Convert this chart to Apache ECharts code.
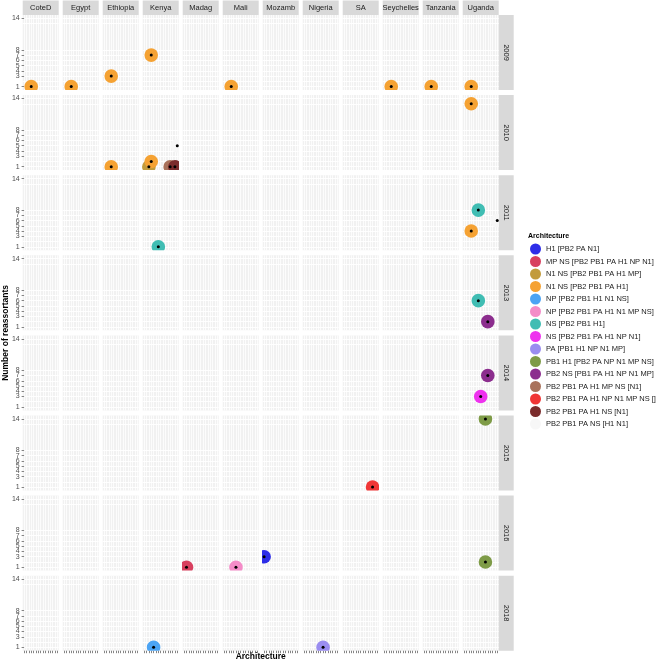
<!DOCTYPE html>
<html><head><meta charset="utf-8">
<script src="https://cdn.jsdelivr.net/npm/echarts@6/dist/echarts.min.js"></script>
<style>html,body{margin:0;padding:0;background:#fff}#c{width:658px;height:661px}</style>
</head><body><div id="c"></div>
<script>
// ---------------- data ----------------
const countries = ['CoteD','Egypt','Ethiopia','Kenya','Madag','Mali','Mozamb','Nigeria','SA','Seychelles','Tanzania','Uganda'];
const years = ['2009','2010','2011','2013','2014','2015','2016','2018'];
const architectures = [
  'H1 [PB2 PA N1]',
  'MP NS [PB2 PB1 PA H1 NP N1]',
  'N1 NS [PB2 PB1 PA H1 MP]',
  'N1 NS [PB2 PB1 PA H1]',
  'NP [PB2 PB1 H1 N1 NS]',
  'NP [PB2 PB1 PA H1 N1 MP NS]',
  'NS [PB2 PB1 H1]',
  'NS [PB2 PB1 PA H1 NP N1]',
  'PA [PB1 H1 NP N1 MP]',
  'PB1 H1 [PB2 PA NP N1 MP NS]',
  'PB2 NS [PB1 PA H1 NP N1 MP]',
  'PB2 PB1 PA H1 MP NS [N1]',
  'PB2 PB1 PA H1 NP N1 MP NS []',
  'PB2 PB1 PA H1 NS [N1]',
  'PB2 PB1 PA NS [H1 N1]'
];
const archColors = ['#2E2EE8','#D8405F','#C29B3C','#F5A233','#4CA4F4','#F48CC8','#40BDB3','#EE32EE','#9A8DF0','#7E9B47','#8C2E8E','#A9725B','#F03636','#7B2C2C','#F7F7F7'];
const yBreaks = [1,2,3,4,5,6,7,8,13,14];

// observations (one entry per point)
const obsYear    = ['2009','2009','2009','2009','2009','2009','2009','2009',
                    '2010','2010','2010','2010','2010','2010','2010',
                    '2011','2011','2011','2011',
                    '2013','2013',
                    '2014','2014',
                    '2015','2015',
                    '2016','2016','2016','2016',
                    '2018','2018'];
const obsCountry = ['CoteD','Egypt','Ethiopia','Kenya','Mali','Seychelles','Tanzania','Uganda',
                    'Ethiopia','Kenya','Kenya','Kenya','Kenya','Kenya','Uganda',
                    'Kenya','Uganda','Uganda','Uganda',
                    'Uganda','Uganda',
                    'Uganda','Uganda',
                    'SA','Uganda',
                    'Madag','Mali','Mozamb','Uganda',
                    'Kenya','Nigeria'];
const obsArch    = ['N1 NS [PB2 PB1 PA H1]','N1 NS [PB2 PB1 PA H1]','N1 NS [PB2 PB1 PA H1]','N1 NS [PB2 PB1 PA H1]',
                    'N1 NS [PB2 PB1 PA H1]','N1 NS [PB2 PB1 PA H1]','N1 NS [PB2 PB1 PA H1]','N1 NS [PB2 PB1 PA H1]',
                    'N1 NS [PB2 PB1 PA H1]','N1 NS [PB2 PB1 PA H1 MP]','N1 NS [PB2 PB1 PA H1]','PB2 PB1 PA H1 MP NS [N1]',
                    'PB2 PB1 PA H1 NS [N1]','PB2 PB1 PA NS [H1 N1]','N1 NS [PB2 PB1 PA H1]',
                    'NS [PB2 PB1 H1]','N1 NS [PB2 PB1 PA H1]','NS [PB2 PB1 H1]','PB2 PB1 PA NS [H1 N1]',
                    'NS [PB2 PB1 H1]','PB2 NS [PB1 PA H1 NP N1 MP]',
                    'NS [PB2 PB1 PA H1 NP N1]','PB2 NS [PB1 PA H1 NP N1 MP]',
                    'PB2 PB1 PA H1 NP N1 MP NS []','PB1 H1 [PB2 PA NP N1 MP NS]',
                    'MP NS [PB2 PB1 PA H1 NP N1]','NP [PB2 PB1 PA H1 N1 MP NS]','H1 [PB2 PA N1]','PB1 H1 [PB2 PA NP N1 MP NS]',
                    'NP [PB2 PB1 H1 N1 NS]','PA [PB1 H1 NP N1 MP]'];
const obsCount   = [1,1,3,7,1,1,1,1,
                    1,1,2,1,1,5,13,
                    1,4,8,6,
                    6,2,
                    3,7,
                    1,14,
                    1,1,3,2,
                    1,1];

// ---------------- layout ----------------
const FONT = 'Liberation Sans, Arial, Helvetica, sans-serif';
const L = { left: 22.7, colStep: 40, panelW: 36, top: 15, rowStep: 80.1, panelH: 75, stripH: 14.5, rStripW: 15 };
const nC = countries.length, nR = years.length;
const archIdx = {}; architectures.forEach((a,i)=>archIdx[a]=i);
const xTicks = architectures.map((a,i)=>i);

const grids = [], xAxes = [], yAxes = [], series = [], graphics = [];

for (let r = 0; r < nR; r++) {
  for (let c = 0; c < nC; c++) {
    const gi = r*nC + c;
    grids.push({ left: L.left + c*L.colStep, top: L.top + r*L.rowStep, width: L.panelW, height: L.panelH,
      show: true, backgroundColor: '#F1F1F1', borderWidth: 0, containLabel: false });
    const bottom = r === nR-1, leftCol = c === 0;
    xAxes.push({ type: 'value', gridIndex: gi, min: -0.6, max: architectures.length - 0.4,
      axisLine: { show: false },
      axisTick: { show: bottom, customValues: xTicks, length: 2.5, lineStyle: { color: '#333', width: 0.6 } },
      axisLabel: { show: false },
      splitLine: { show: true, lineStyle: { color: '#FFFFFF', width: 0.8 } } });
    yAxes.push({ type: 'value', gridIndex: gi, min: 0.35, max: 14.65,
      axisLine: { show: false },
      axisTick: { show: leftCol, customValues: yBreaks, length: 2.5, lineStyle: { color: '#333', width: 0.6 } },
      axisLabel: { show: leftCol, customValues: yBreaks, hideOverlap: false, showMinLabel: true, showMaxLabel: true,
        fontSize: 7, color: '#4D4D4D', margin: 3, fontFamily: FONT },
      splitLine: { show: true, lineStyle: { color: '#FFFFFF', width: 0.9 } } });

    const idx = [];
    for (let k = 0; k < obsYear.length; k++) {
      if (obsYear[k] === years[r] && obsCountry[k] === countries[c]) idx.push(k);
    }
    if (!idx.length) continue;
    idx.sort((a,b)=>archIdx[obsArch[a]] - archIdx[obsArch[b]]);
    const data = idx.map(k => [archIdx[obsArch[k]], obsCount[k]]);
    series.push({ type: 'custom', xAxisIndex: gi, yAxisIndex: gi, clip: true, z: 2, silent: true,
      encode: { x: 0, y: 1 }, data,
      renderItem: (p, api) => {
        const pt = api.coord([api.value(0), api.value(1)]);
        return { type: 'circle', shape: { cx: pt[0], cy: pt[1], r: 6.8 }, style: { fill: archColors[api.value(0)] } };
      } });
    series.push({ type: 'custom', xAxisIndex: gi, yAxisIndex: gi, clip: true, z: 3, silent: true,
      encode: { x: 0, y: 1 }, data,
      renderItem: (p, api) => {
        const pt = api.coord([api.value(0), api.value(1)]);
        return { type: 'circle', shape: { cx: pt[0], cy: pt[1], r: 1.5 }, style: { fill: '#000' } };
      } });
  }
}

// legend carrier series (empty)
architectures.forEach((a,i) => {
  series.push({ type: 'scatter', name: a, xAxisIndex: 0, yAxisIndex: 0, data: [],
    itemStyle: { color: archColors[i], opacity: 1 } });
});

// strips
countries.forEach((name, c) => {
  const x = L.left + c*L.colStep;
  graphics.push({ type: 'rect', shape: { x: x, y: L.top - L.stripH, width: L.panelW, height: L.stripH }, style: { fill: '#D9D9D9' }, silent: true });
  graphics.push({ type: 'text', x: x + L.panelW/2, y: L.top - L.stripH/2,
    style: { text: name, fontSize: 7.5, fontFamily: FONT, fill: '#1A1A1A', align: 'center', verticalAlign: 'middle' }, silent: true });
});
const stripX = L.left + (nC-1)*L.colStep + L.panelW;
years.forEach((name, r) => {
  const y = L.top + r*L.rowStep;
  graphics.push({ type: 'rect', shape: { x: stripX, y: y, width: L.rStripW, height: L.panelH }, style: { fill: '#D9D9D9' }, silent: true });
  graphics.push({ type: 'text', x: stripX + L.rStripW/2, y: y + L.panelH/2, rotation: -Math.PI/2,
    style: { text: name, fontSize: 7.5, fontFamily: FONT, fill: '#1A1A1A', align: 'center', verticalAlign: 'middle' }, silent: true });
});
const panelsRight = stripX;
const panelsBottom = L.top + (nR-1)*L.rowStep + L.panelH;
graphics.push({ type: 'text', x: (L.left + panelsRight)/2, y: 657,
  style: { text: 'Architecture', fontSize: 8.5, fontWeight: 'bold', fontFamily: FONT, fill: '#000', align: 'center', verticalAlign: 'middle' }, silent: true });
graphics.push({ type: 'text', x: 6, y: (L.top + panelsBottom)/2, rotation: Math.PI/2,
  style: { text: 'Number of reassortants', fontSize: 8.5, fontWeight: 'bold', fontFamily: FONT, fill: '#000', align: 'center', verticalAlign: 'middle' }, silent: true });
graphics.push({ type: 'text', x: 528, y: 236,
  style: { text: 'Architecture', fontSize: 7, fontWeight: 'bold', fontFamily: FONT, fill: '#000', align: 'left', verticalAlign: 'middle' }, silent: true });

const chart = echarts.init(document.getElementById('c'), null, { renderer: 'canvas' });
chart.setOption({
  animation: false,
  backgroundColor: '#FFFFFF',
  grid: grids, xAxis: xAxes, yAxis: yAxes, series,
  legend: { orient: 'vertical', left: 530, top: 243.5, padding: 0, itemWidth: 11, itemHeight: 11, itemGap: 1.5,
    icon: 'circle', selectedMode: false, data: architectures,
    itemStyle: { opacity: 1 },
    textStyle: { fontSize: 7.5, color: '#1A1A1A', fontFamily: FONT } },
  graphic: graphics
});
</script></body></html>
